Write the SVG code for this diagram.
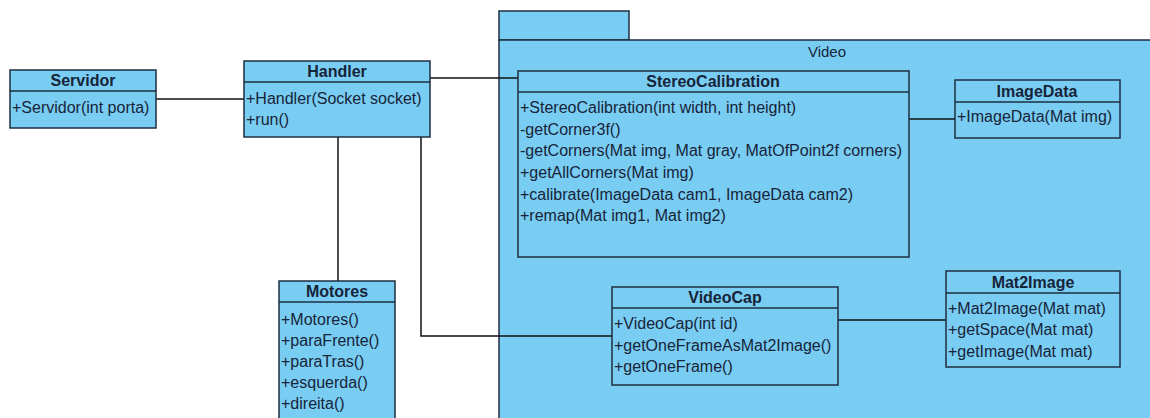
<svg xmlns="http://www.w3.org/2000/svg" width="1150" height="418" viewBox="0 0 1150 418">
  <style>
    .pkg { fill: #7ACDF2; stroke: #1E2E40; stroke-width: 1.5; }
    .box { fill: #7ACDF2; stroke: #1E2E40; stroke-width: 1.5; }
    .sep { stroke: #1E2E40; stroke-width: 1.5; }
    .title { font-family: "Liberation Sans", Arial, sans-serif; font-size: 16px; font-weight: bold; fill: #16243A; text-anchor: middle; }
    .op { font-family: "Liberation Sans", Arial, sans-serif; font-size: 16px; fill: #16243A; }
    .pkgname { font-family: "Liberation Sans", Arial, sans-serif; font-size: 15px; fill: #16243A; text-anchor: middle; }
    .conn { fill: none; stroke: #111111; stroke-width: 1.5; }
  </style>

  <rect width="1150" height="418" fill="#FFFFFF"/>

  <!-- Video package -->
  <g id="pkg-video">
    <rect class="pkg" x="499" y="11" width="130" height="29"/>
    <rect class="pkg" x="499" y="40" width="660" height="390"/>
    <text class="pkgname" x="827" y="57">Video</text>
  </g>

  <!-- associations -->
  <g id="connectors">
    <line class="conn" x1="156" y1="99" x2="244" y2="99"/>
    <line class="conn" x1="430" y1="78" x2="518" y2="78"/>
    <line class="conn" x1="338" y1="137" x2="338" y2="281"/>
    <polyline class="conn" points="421,137 421,336 612,336"/>
    <line class="conn" x1="909" y1="119" x2="955" y2="119"/>
    <line class="conn" x1="838" y1="320" x2="946" y2="320"/>
  </g>

  <g id="servidor">
    <rect class="box" x="10" y="70" width="146" height="58"/>
    <line class="sep" x1="10" y1="91" x2="156" y2="91"/>
    <text class="title" x="83" y="86">Servidor</text>
    <text class="op" x="12" y="113">+Servidor(int porta)</text>
  </g>

  <g id="handler">
    <rect class="box" x="244" y="61" width="186" height="76"/>
    <line class="sep" x1="244" y1="82" x2="430" y2="82"/>
    <text class="title" x="337" y="77">Handler</text>
    <text class="op" x="246" y="104">+Handler(Socket socket)</text>
    <text class="op" x="246" y="125">+run()</text>
  </g>

  <g id="stereocalibration">
    <rect class="box" x="518" y="71" width="391" height="186"/>
    <line class="sep" x1="518" y1="92" x2="909" y2="92"/>
    <text class="title" x="713" y="87">StereoCalibration</text>
    <text class="op" x="520" y="113">+StereoCalibration(int width, int height)</text>
    <text class="op" x="520" y="135">-getCorner3f()</text>
    <text class="op" x="520" y="156">-getCorners(Mat img, Mat gray, MatOfPoint2f corners)</text>
    <text class="op" x="520" y="178">+getAllCorners(Mat img)</text>
    <text class="op" x="520" y="200">+calibrate(ImageData cam1, ImageData cam2)</text>
    <text class="op" x="520" y="221">+remap(Mat img1, Mat img2)</text>
  </g>

  <g id="imagedata">
    <rect class="box" x="955" y="80" width="165" height="58"/>
    <line class="sep" x1="955" y1="102" x2="1120" y2="102"/>
    <text class="title" x="1037" y="97">ImageData</text>
    <text class="op" x="957" y="122">+ImageData(Mat img)</text>
  </g>

  <g id="motores">
    <rect class="box" x="279" y="281" width="116" height="150"/>
    <line class="sep" x1="279" y1="302" x2="395" y2="302"/>
    <text class="title" x="337" y="297">Motores</text>
    <text class="op" x="281" y="325">+Motores()</text>
    <text class="op" x="281" y="346">+paraFrente()</text>
    <text class="op" x="281" y="367">+paraTras()</text>
    <text class="op" x="281" y="388">+esquerda()</text>
    <text class="op" x="281" y="409">+direita()</text>
  </g>

  <g id="videocap">
    <rect class="box" x="612" y="287" width="226" height="98"/>
    <line class="sep" x1="612" y1="308" x2="838" y2="308"/>
    <text class="title" x="725" y="303">VideoCap</text>
    <text class="op" x="614" y="329">+VideoCap(int id)</text>
    <text class="op" x="614" y="351">+getOneFrameAsMat2Image()</text>
    <text class="op" x="614" y="372">+getOneFrame()</text>
  </g>

  <g id="mat2image">
    <rect class="box" x="946" y="271" width="174" height="96"/>
    <line class="sep" x1="946" y1="293" x2="1120" y2="293"/>
    <text class="title" x="1033" y="288">Mat2Image</text>
    <text class="op" x="948" y="314">+Mat2Image(Mat mat)</text>
    <text class="op" x="948" y="335">+getSpace(Mat mat)</text>
    <text class="op" x="948" y="357">+getImage(Mat mat)</text>
  </g>
</svg>
